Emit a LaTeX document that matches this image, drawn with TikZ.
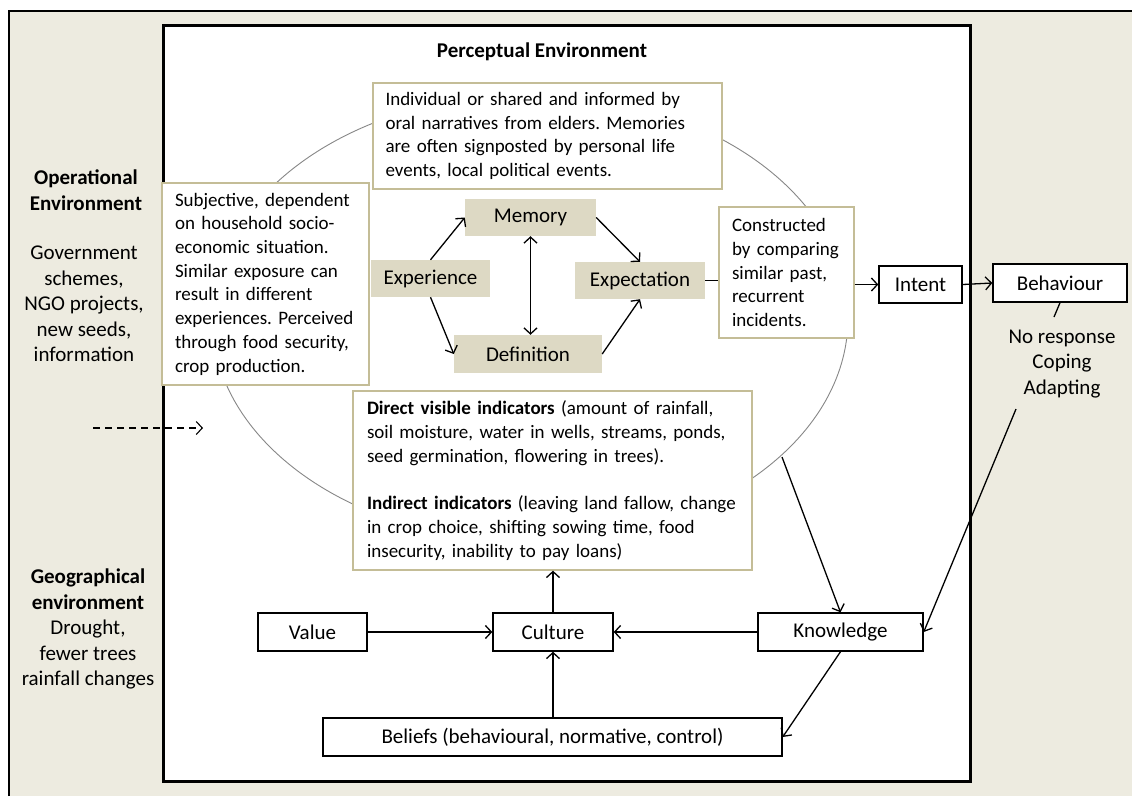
\documentclass[tikz,border=0pt]{standalone}
\usepackage{fontspec}
\setmainfont{Carlito}
\usetikzlibrary{arrows.meta}
\definecolor{bgbeige}{RGB}{237,235,224}
\definecolor{tanfill}{RGB}{221,217,196}
\definecolor{notec}{RGB}{196,189,151}
\definecolor{ellc}{RGB}{135,135,135}
\newcommand\fsA{\fontsize{21}{25.5}\selectfont}
\newcommand\fsN{\fontsize{19}{23.7}\selectfont}
\newcommand\Lx[1]{\mbox{#1}}
\frenchspacing
\tikzset{
  note/.style={draw=notec, fill=white, line width=1.3pt, align=left, font=\fsN, inner xsep=0pt, inner ysep=0pt},
  tanbox/.style={fill=tanfill, draw=none, font=\fsA, inner sep=0pt},
  blkbox/.style={draw=black, fill=white, line width=1.4pt, font=\fsA, inner sep=0pt},
  arr/.style={-{Straight Barb[length=6pt,width=13pt]}, line width=1.3pt},
  darr/.style={{Straight Barb[length=6pt,width=13pt]}-{Straight Barb[length=6pt,width=13pt]}, line width=1.3pt},
  plain/.style={line width=1.3pt},
  lbl/.style={align=center, font=\fsA, inner sep=0pt}
}
\begin{document}
\begin{tikzpicture}[x=1pt,y=-1pt]
\useasboundingbox (0,0) rectangle (1132,796);
% outer environment
\fill[bgbeige] (9,11) rectangle (1132,796);
\draw[line width=2pt] (9,796) -- (9,11) -- (1132,11);
% inner perceptual environment
\draw[line width=3pt, fill=white] (163,25) rectangle (970,781);
\node[font=\fsA\bfseries, inner sep=0pt] (title) at (542,52) {Perceptual Environment};
% ellipse
\draw[ellc, line width=0.9pt] (530,318) ellipse [x radius=318, y radius=224];
% notes
\node[note, minimum width=349, minimum height=106, text width=324] (mnote) at (547.5,136)
 {\Lx{Individual or shared and informed by}\\\Lx{oral narratives from elders. Memories}\\\Lx{are often signposted by personal life}\\\Lx{events, local political events.}};
\node[note, minimum width=207, minimum height=202, text width=181] (lnote) at (265.5,284)
 {\Lx{Subjective, dependent}\\\Lx{on household socio-}\\\Lx{economic situation.}\\\Lx{Similar exposure can}\\\Lx{result in different}\\\Lx{experiences. Perceived}\\\Lx{through food security,}\\\Lx{crop production.}};
\node[note, minimum width=135, minimum height=131, text width=109] (cnote) at (786.5,272.5)
 {\Lx{Constructed}\\\Lx{by comparing}\\\Lx{similar past,}\\\Lx{recurrent}\\\Lx{incidents.}};
\node[note, minimum width=399, minimum height=179, text width=371] (inote) at (552.5,480.5)
 {\Lx{\textbf{Direct visible indicators} (amount of rainfall,}\\\Lx{soil moisture, water in wells, streams, ponds,}\\\Lx{seed germination, flowering in trees).}\\[23.7pt]\Lx{\textbf{Indirect indicators} (leaving land fallow, change}\\\Lx{in crop choice, shifting sowing time, food}\\\Lx{insecurity, inability to pay loans)}};
% tan boxes
\node[tanbox, minimum width=131, minimum height=37] (mem) at (530.5,217.5) {Memory};
\node[tanbox, minimum width=119, minimum height=37] (exp) at (430.5,278.5) {Experience};
\node[tanbox, minimum width=130, minimum height=37] (expc) at (640,280.5) {Expectation};
\node[tanbox, minimum width=148, minimum height=38] (def) at (528,354) {Definition};
% black boxes
\node[blkbox, minimum width=83, minimum height=37] (intent) at (920.5,284.5) {Intent};
\node[blkbox, minimum width=134, minimum height=38] (beh) at (1060,283) {Behaviour};
\node[blkbox, minimum width=109, minimum height=38] (val) at (312.5,632) {Value};
\node[blkbox, minimum width=120, minimum height=38] (cul) at (553,632) {Culture};
\node[blkbox, minimum width=165, minimum height=38] (kn) at (840.5,632) {Knowledge};
\node[blkbox, minimum width=459, minimum height=38] (bel) at (552.5,737) {Beliefs (behavioural, normative, control)};
% side labels
\node[lbl, font=\fsA\bfseries] (op) at (86,190) {Operational\\Environment};
\node[lbl] (gov) at (84,304) {Government\\schemes,\\NGO projects,\\new seeds,\\information};
\node[lbl] (geo) at (88,629) {\textbf{Geographical}\\\textbf{environment}\\Drought,\\fewer trees\\rainfall changes};
\node[lbl] (resp) at (1062,364) {No response\\Coping\\Adapting};
% coordinates
\coordinate (dashs) at (93,428);
\coordinate (dashe) at (203,428);
\coordinate (behl) at (1054,317);
\coordinate (adapt) at (1016,409);
\coordinate (ellk) at (782,457);
% connectors
\draw[arr] (exp.north) -- (mem.west);
\draw[arr] (exp.south) -- (def.west);
\draw[darr] (mem.south) -- (mem.south |- def.north);
\draw[arr] (mem.east) -- (expc.north);
\draw[arr] (def.east) -- (expc.south);
\draw[plain] (expc.east) -- (expc.east -| cnote.west);
\draw[arr] (cnote.east |- intent.west) -- (intent.west);
\draw[arr] (intent.east) -- (beh.west);
\draw[plain] (beh.south) -- (behl);
\draw[arr] (adapt) -- (kn.east);
\draw[arr] (ellk) -- (kn.north);
\draw[arr] (kn.south) -- (bel.east);
\draw[arr] (kn.west) -- (cul.east);
\draw[arr] (val.east) -- (cul.west);
\draw[arr] (cul.south |- bel.north) -- (cul.south);
\draw[arr] (cul.north) -- (cul.north |- inote.south);
\draw[arr, dash pattern=on 7pt off 5pt, line width=1.1pt] (dashs) -- (dashe);
\end{tikzpicture}
\end{document}
